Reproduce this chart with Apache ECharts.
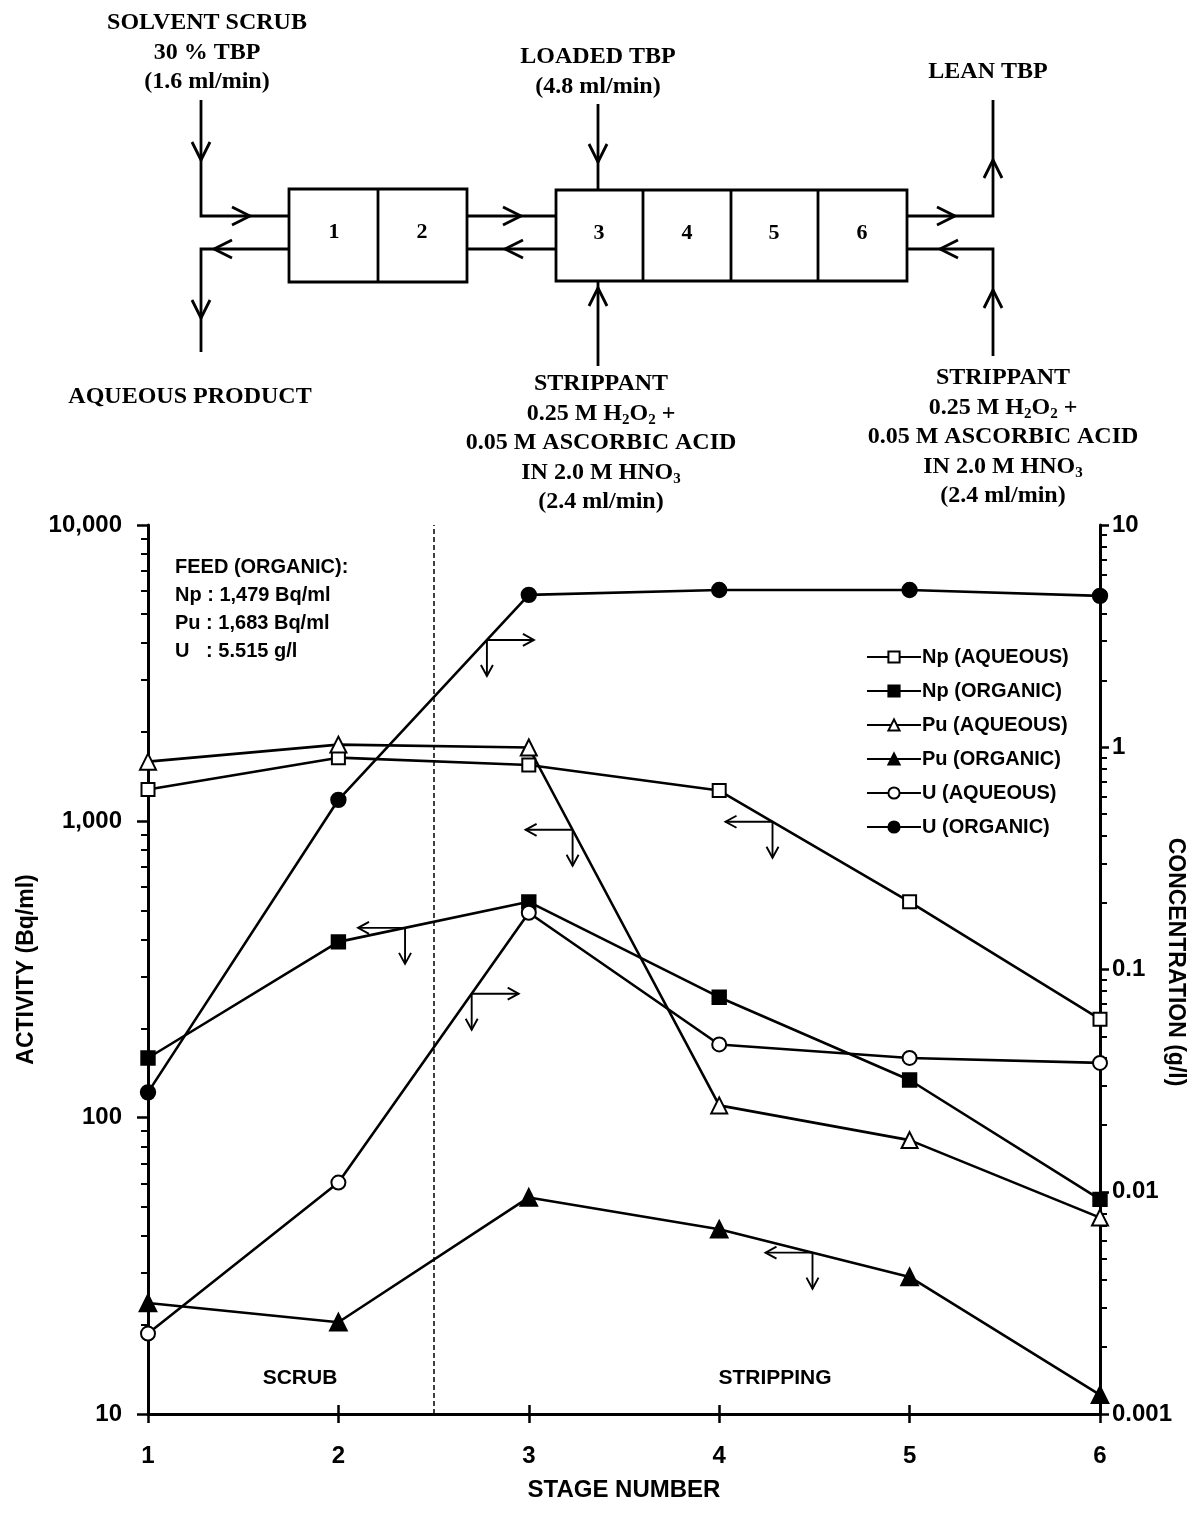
<!DOCTYPE html>
<html>
<head>
<meta charset="utf-8">
<title>Np, Pu and U profiles in the stripping contactor</title>
<script src="https://cdn.jsdelivr.net/npm/echarts@6/dist/echarts.min.js"></script>
<style>
  html, body { margin: 0; padding: 0; background: #fff; }
  #chart { width: 1197px; height: 1529px; }
</style>
</head>
<body>
<div id="chart"></div>
<script>
// Stage numbers along the contactor
const stages = [1, 2, 3, 4, 5, 6];

// Activities (Bq/ml) on the left axis
const npAqueous = [1280, 1640, 1550, 1270, 535, 215];
const npOrganic = [159, 392, 535, 255, 134, 53];
const puAqueous = [1590, 1815, 1775, 110, 84, 46];
const puOrganic = [23.7, 20.4, 53.8, 42, 29, 11.6];

// Uranium concentrations (g/l) on the right axis
const uAqueous = [0.0023, 0.011, 0.18, 0.046, 0.040, 0.038];
const uOrganic = [0.028, 0.58, 4.85, 5.1, 5.1, 4.8];

// Axis tick values and their printed labels
const activityTicks = [10, 100, 1000, 10000];
const activityLabels = ['10', '100', '1,000', '10,000'];
const concTicks = [0.001, 0.01, 0.1, 1, 10];
const concLabels = ['0.001', '0.01', '0.1', '1', '10'];
const stageLabels = ['1', '2', '3', '4', '5', '6'];

// Feed composition note
const feedLines = ['FEED (ORGANIC):', 'Np : 1,479 Bq/ml', 'Pu : 1,683 Bq/ml', 'U   : 5.515 g/l'];

const SANS = '"Liberation Sans", Arial, sans-serif';
const SERIF = '"Liberation Serif", "Times New Roman", serif';

// minor ticks at 2..9 of each decade
function decadeMinors(ticks) {
  const out = [];
  for (let i = 0; i < ticks.length - 1; i++) {
    for (let m = 2; m <= 9; m++) out.push(+(ticks[i] * m).toPrecision(6));
  }
  return out;
}
function labelFor(ticks, labels) {
  return function (v) {
    let best = 0, bd = Infinity;
    ticks.forEach((t, i) => {
      const d = Math.abs(Math.log10(t) - Math.log10(v));
      if (d < bd) { bd = d; best = i; }
    });
    return bd < 1e-3 ? labels[best] : '';
  };
}

const seriesDefs = [
  { name: 'Np (AQUEOUS)', data: npAqueous, symbol: 'emptyRect', size: 13, axis: 0 },
  { name: 'Np (ORGANIC)', data: npOrganic, symbol: 'rect', size: 13, axis: 0 },
  { name: 'Pu (AQUEOUS)', data: puAqueous, symbol: 'emptyTriangle', size: 16, axis: 0 },
  { name: 'Pu (ORGANIC)', data: puOrganic, symbol: 'triangle', size: 16, axis: 0 },
  { name: 'U (AQUEOUS)', data: uAqueous, symbol: 'emptyCircle', size: 14, axis: 1 },
  { name: 'U (ORGANIC)', data: uOrganic, symbol: 'circle', size: 14, axis: 1 }
];

const chart = echarts.init(document.getElementById('chart'), null, { renderer: 'canvas' });

const axisLineStyle = { color: '#000', width: 3 };
const tickFont = { color: '#000', fontFamily: SANS, fontWeight: 'bold', fontSize: 24 };

const option = {
  animation: false,
  backgroundColor: '#fff',
  grid: { left: 148, right: 97, top: 525, bottom: 115, containLabel: false, outerBoundsMode: 'none' },
  legend: {
    orient: 'vertical',
    left: 866,
    top: 647,
    padding: 0,
    itemGap: 14,
    itemWidth: 54,
    itemHeight: 14,
    data: seriesDefs.map(s => s.name),
    textStyle: { color: '#000', fontFamily: SANS, fontWeight: 'bold', fontSize: 20, padding: [0, 0, 0, -4] }
  },
  xAxis: [
    {
      type: 'value', min: 1, max: 6, interval: 1,
      axisLine: { lineStyle: axisLineStyle },
      axisTick: { length: 9, lineStyle: { color: '#000', width: 2.5 } },
      axisLabel: { margin: 30, formatter: v => stageLabels[Math.round(v) - 1] || '', ...tickFont },
      splitLine: { show: false },
      name: 'STAGE NUMBER', nameLocation: 'middle', nameGap: 64,
      nameTextStyle: { color: '#000', fontFamily: SANS, fontWeight: 'bold', fontSize: 24 }
    },
    {
      type: 'value', min: 1, max: 6, interval: 1, position: 'bottom',
      axisLine: { show: false },
      axisTick: { inside: true, length: 9, lineStyle: { color: '#000', width: 2.5 } },
      axisLabel: { show: false }, splitLine: { show: false }
    }
  ],
  yAxis: [
    {
      type: 'log', logBase: 10, min: 10, max: 10000, position: 'left',
      axisLine: { show: true, lineStyle: axisLineStyle },
      axisTick: { show: true, length: 11, lineStyle: { color: '#000', width: 2.5 } },
      axisLabel: { margin: 26, formatter: labelFor(activityTicks, activityLabels), ...tickFont },
      splitLine: { show: false },
      name: 'ACTIVITY (Bq/ml)', nameLocation: 'middle', nameGap: 110, nameRotate: 90,
      nameTextStyle: { color: '#000', fontFamily: SANS, fontWeight: 'bold', fontSize: 23 }
    },
    {
      type: 'log', logBase: 10, min: 0.001, max: 10, position: 'right',
      axisLine: { show: true, lineStyle: axisLineStyle },
      axisTick: { show: true, length: 9, lineStyle: { color: '#000', width: 2.5 } },
      axisLabel: { margin: 12, formatter: labelFor(concTicks, concLabels), ...tickFont },
      splitLine: { show: false }
    },
    {
      type: 'log', logBase: 10, min: 10, max: 10000, position: 'left',
      axisLine: { show: false },
      axisTick: { show: true, length: 7, customValues: decadeMinors(activityTicks), lineStyle: { color: '#000', width: 2 } },
      axisLabel: { show: false }, splitLine: { show: false }
    },
    {
      type: 'log', logBase: 10, min: 0.001, max: 10, position: 'right',
      axisLine: { show: false },
      axisTick: { show: true, length: 7, customValues: decadeMinors(concTicks), lineStyle: { color: '#000', width: 2 } },
      axisLabel: { show: false }, splitLine: { show: false }
    }
  ],
  series: seriesDefs.map((s, k) => ({
    type: 'line',
    name: s.name,
    yAxisIndex: s.axis,
    data: stages.map((x, i) => [x, s.data[i]]),
    symbol: s.symbol,
    symbolSize: s.size,
    showAllSymbol: true,
    lineStyle: { color: '#000', width: 2.6 },
    itemStyle: { color: '#000', borderColor: '#000', borderWidth: 2.4 },
    emphasis: { disabled: true },
    markLine: k === 0 ? {
      silent: true, symbol: ['none', 'none'], label: { show: false },
      lineStyle: { color: '#000', width: 1.5, type: [5, 3] },
      data: [{ xAxis: 2.5 }]
    } : undefined
  }))
};

chart.setOption(option);

// ---- flowsheet of the contactor above the plot ----
const LW = 2.8;
function seg(points, w) {
  return { type: 'polyline', shape: { points: points }, style: { stroke: '#000', lineWidth: w || LW, fill: null } };
}
function head(tip, dx, dy, len, half, w) {
  const bx = tip[0] - dx * len, by = tip[1] - dy * len;
  const px = -dy, py = dx;
  return seg([[bx + px * half, by + py * half], tip, [bx - px * half, by - py * half]], w);
}
function txt(x, y, text, font, align, rich) {
  const st = { x: x, y: y, text: text, font: font, fill: '#000', textAlign: align || 'center', textVerticalAlign: 'middle' };
  if (rich) st.rich = rich;
  return { type: 'text', style: st };
}
const dFont = 'bold 24px ' + SERIF;
const subRich = {
  n: { fontFamily: SERIF, fontWeight: 'bold', fontSize: 24, fill: '#000' },
  s: { fontFamily: SERIF, fontWeight: 'bold', fontSize: 15, fill: '#000', padding: [12, 0, 0, 0] }
};
function stripText(cx, y0) {
  return [
    txt(cx, y0, 'STRIPPANT', dFont),
    txt(cx, y0 + 30, '{n|0.25 M H}{s|2}{n|O}{s|2}{n| +}', dFont, 'center', subRich),
    txt(cx, y0 + 59, '0.05 M ASCORBIC ACID', dFont),
    txt(cx, y0 + 89, '{n|IN 2.0 M HNO}{s|3}', dFont, 'center', subRich),
    txt(cx, y0 + 118, '(2.4 ml/min)', dFont)
  ];
}

const AH = 18, AW = 9;
const diagram = [
  // settler boxes
  { type: 'rect', shape: { x: 289, y: 189, width: 178, height: 93 }, style: { stroke: '#000', lineWidth: LW, fill: null } },
  seg([[378, 189], [378, 282]]),
  { type: 'rect', shape: { x: 556, y: 190, width: 351, height: 91 }, style: { stroke: '#000', lineWidth: LW, fill: null } },
  seg([[643, 190], [643, 281]]), seg([[731, 190], [731, 281]]), seg([[818, 190], [818, 281]]),
  txt(334, 232, '1', 'bold 22px ' + SERIF), txt(422, 232, '2', 'bold 22px ' + SERIF),
  txt(599, 233, '3', 'bold 22px ' + SERIF), txt(687, 233, '4', 'bold 22px ' + SERIF),
  txt(774, 233, '5', 'bold 22px ' + SERIF), txt(862, 233, '6', 'bold 22px ' + SERIF),

  // solvent scrub inlet and aqueous product outlet
  seg([[201, 100], [201, 216], [289, 216]]), head([201, 160], 0, 1, AH, AW), head([250, 216], 1, 0, AH, AW),
  seg([[289, 249], [201, 249], [201, 352]]), head([214, 249], -1, 0, AH, AW), head([201, 318], 0, 1, AH, AW),
  // between the two banks
  seg([[467, 216], [556, 216]]), head([521, 216], 1, 0, AH, AW),
  seg([[556, 249], [467, 249]]), head([505, 249], -1, 0, AH, AW),
  // loaded TBP feed and strippant into stage 3
  seg([[598, 104], [598, 190]]), head([598, 162], 0, 1, AH, AW),
  seg([[598, 281], [598, 366]]), head([598, 288], 0, -1, AH, AW),
  // lean TBP out, strippant into stage 6
  seg([[907, 216], [993, 216], [993, 100]]), head([955, 216], 1, 0, AH, AW), head([993, 160], 0, -1, AH, AW),
  seg([[993, 356], [993, 249], [907, 249]]), head([993, 290], 0, -1, AH, AW), head([940, 249], -1, 0, AH, AW),

  txt(207, 23, 'SOLVENT SCRUB', dFont),
  txt(207, 53, '30 % TBP', dFont),
  txt(207, 82, '(1.6 ml/min)', dFont),
  txt(598, 57, 'LOADED TBP', dFont),
  txt(598, 87, '(4.8 ml/min)', dFont),
  txt(988, 72, 'LEAN TBP', dFont),
  txt(190, 397, 'AQUEOUS PRODUCT', dFont)
].concat(stripText(601, 384), stripText(1003, 378));

// ---- notes inside the plot ----
const notes = feedLines.map((t, i) => txt(175, 567 + i * 28, t, 'bold 20px ' + SANS, 'left'));
notes.push(txt(300, 1378, 'SCRUB', 'bold 21px ' + SANS));
notes.push(txt(775, 1378, 'STRIPPING', 'bold 21px ' + SANS));

// right-hand axis title, reading downwards
const rightTitle = {
  type: 'text', x: 1175, y: 962, rotation: -Math.PI / 2,
  style: { x: 0, y: 0, text: 'CONCENTRATION (g/l)', font: 'bold 23px ' + SANS, fill: '#000', textAlign: 'center', textVerticalAlign: 'middle' }
};

// ---- arrows telling which axis each curve is read on ----
// stage: position along the curve where the arrow starts; dir: +1 right axis, -1 left axis
const axisPointers = [
  { series: 5, stage: 2.78, dir: 1 },
  { series: 4, stage: 2.70, dir: 1 },
  { series: 1, stage: 2.35, dir: -1 },
  { series: 2, stage: 3.23, dir: -1 },
  { series: 0, stage: 4.28, dir: -1 },
  { series: 3, stage: 4.49, dir: -1 }
];
const pointerEls = [];
axisPointers.forEach(a => {
  const vals = seriesDefs[a.series].data;
  const i = Math.floor(a.stage) - 1;
  const t = a.stage - Math.floor(a.stage);
  const p0 = chart.convertToPixel({ seriesIndex: a.series }, [stages[i], vals[i]]);
  const p1 = chart.convertToPixel({ seriesIndex: a.series }, [stages[i + 1], vals[i + 1]]);
  const p = [p0[0] + (p1[0] - p0[0]) * t, p0[1] + (p1[1] - p0[1]) * t];
  const hEnd = [p[0] + a.dir * 47, p[1]];
  const vEnd = [p[0], p[1] + 36];
  pointerEls.push(seg([p, hEnd], 1.9), head(hEnd, a.dir, 0, 11, 6, 1.9));
  pointerEls.push(seg([p, vEnd], 1.9), head(vEnd, 0, 1, 11, 6, 1.9));
});

chart.setOption({ graphic: { elements: diagram.concat(notes, [rightTitle], pointerEls) } });
</script>
</body>
</html>
